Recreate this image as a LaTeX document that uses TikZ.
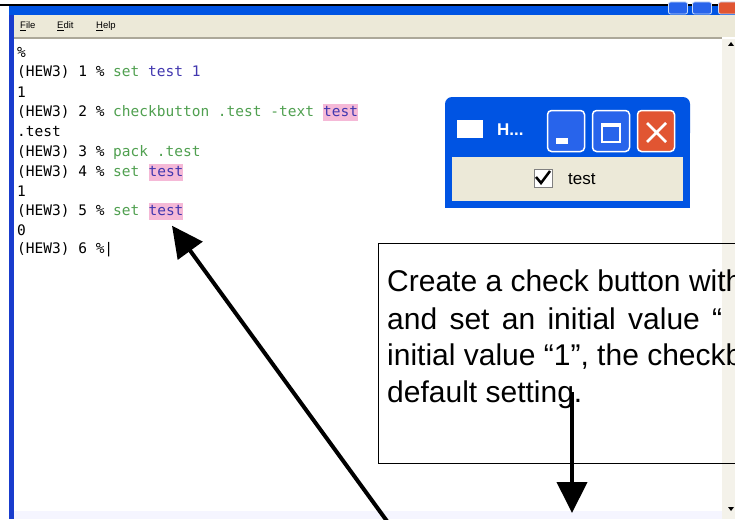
\documentclass[tikz,border=0pt]{standalone}
\usepackage{fontspec}
\setmainfont{Liberation Sans}
\newfontfamily\consolefont{DejaVu Sans Mono}
\usetikzlibrary{positioning,arrows.meta}

\definecolor{xpblue}{RGB}{0,84,227}
\definecolor{xpedge}{RGB}{25,60,205}
\definecolor{menubeige}{RGB}{236,233,216}
\definecolor{sepgray}{RGB}{172,168,153}
\definecolor{cmdgreen}{RGB}{80,160,80}
\definecolor{argblue}{RGB}{65,55,175}
\definecolor{hlpink}{RGB}{245,185,215}
\definecolor{closered}{RGB}{225,85,50}
\definecolor{scrollbg}{RGB}{244,242,234}
\definecolor{btnblue}{RGB}{40,100,235}

\begin{document}
\begin{tikzpicture}[x=1pt,y=-1pt,
	every node/.style={inner sep=0pt},
	menuitem/.style={anchor=west, font=\fontsize{9.5}{11}\selectfont},
	conline/.style={anchor=west, font=\consolefont\fontsize{14.5}{17}\selectfont},
	hlbox/.style={conline, fill=hlpink, text=argblue, minimum height=17pt},
	noteline/.style={anchor=west, font=\fontsize{30}{35}\selectfont},
	notebox/.style={draw, line width=1.2pt, anchor=north west, minimum width=380pt, minimum height=220pt},
	winbtn/.style={draw=white, line width=1.5pt, rounded corners=4pt, fill=btnblue, minimum width=37pt, minimum height=41pt},
	tinybtn/.style={draw=white!80!xpblue, line width=0.8pt, rounded corners=2pt, fill=btnblue, minimum width=19pt, minimum height=12pt},
	callout/.style={line width=4pt, -{Triangle[length=31pt,width=30pt]}}
	]
	\useasboundingbox (0,0) rectangle (735,519);
	\clip (0,0) rectangle (735,519);
	
	% console window frame
	\fill[white] (0,0) rectangle (735,519);
	\draw[line width=2pt] (0,5) -- (735,5);
	\fill[xpblue] (9,6) rectangle (735,15);
	\node[tinybtn] (tmin) at (678,8) {};
	\node[tinybtn] (tmax) at (702,8) {};
	\node[tinybtn, fill=closered] (tclose) at (728,8) {};
	\fill[xpedge] (9,15) rectangle (14,519);
	\fill[menubeige] (14,15) rectangle (735,37);
	\draw[sepgray, line width=1.5pt] (14,38) -- (722,38);
	\fill[scrollbg] (722,39) rectangle (735,519);
	\fill[blue!4] (14,511) rectangle (722,519);
	\fill (728,46) -- (734,46) -- (731,42) -- cycle;
	\fill (728,507) -- (734,507) -- (731,511) -- cycle;
	
	% menu
	\node[menuitem] (mfile) at (20,26) {\underline{F}ile};
	\node[menuitem] (medit) at (57,26) {\underline{E}dit};
	\node[menuitem] (mhelp) at (96,26) {\underline{H}elp};
	
	% console text
	\node[conline] (l0) at (17,52) {\%};
	\node[conline] (l1) at (17,72) {(HEW3) 1 \% \textcolor{cmdgreen}{set} \textcolor{argblue}{test 1}};
	\node[conline] (l2) at (17,92) {1};
	\node[conline] (l3) at (17,112) {(HEW3) 2 \% \textcolor{cmdgreen}{checkbutton .test -text}};
	\node[hlbox, right=8.73pt of l3] (hl3) {test};
	\node[conline] (l4) at (17,132) {.test};
	\node[conline] (l5) at (17,152) {(HEW3) 3 \% \textcolor{cmdgreen}{pack .test}};
	\node[conline] (l6) at (17,172) {(HEW3) 4 \% \textcolor{cmdgreen}{set}};
	\node[hlbox, right=8.73pt of l6] (hl6) {test};
	\node[conline] (l7) at (17,191) {1};
	\node[conline] (l8) at (17,211) {(HEW3) 5 \% \textcolor{cmdgreen}{set}};
	\node[hlbox, right=8.73pt of l8] (hl8) {test};
	\node[conline] (l9) at (17,230) {0};
	\node[conline] (l10) at (17,250) {(HEW3) 6 \%|};
	
	% small test window
	\fill[xpblue, rounded corners=7pt] (445,97) rectangle (690,140);
	\fill[xpblue] (445,120) rectangle (690,208);
	\fill[menubeige] (452,157) rectangle (683,201);
	\node[fill=white, minimum width=26pt, minimum height=18pt] (wicon) at (470,129) {};
	\node[anchor=west, text=white, font=\bfseries\fontsize{17}{20}\selectfont] (wtitle) at (497,130) {H...};
	\node[winbtn] (wmin) at (566,131) {};
	\node[winbtn] (wmax) at (611,131) {};
	\node[winbtn, fill=closered] (wclose) at (656,131) {};
	\fill[white] (556,138) rectangle (568,144);
	\draw[white, line width=1.5pt] (602,124) rectangle (620,142);
	\draw[white, line width=3pt] (602,125) -- (620,125);
	\draw[white, line width=2.5pt] (647,123) -- (666,142) (666,123) -- (647,142);
	\node[fill=white, draw=gray, minimum width=18pt, minimum height=18pt] (wcheck) at (543,178) {};
	\draw[line width=2.5pt] (536,177) -- (541,183) -- (550,171);
	\node[anchor=west, font=\fontsize{17}{20}\selectfont] (wtext) at (568,179) {test};
	
	% note box
	\node[notebox] (note) at (378,243) {};
	\node[noteline] (n1) at (387,281) {Create a check button with};
	\node[noteline] (n2) at (387,319) {{\spaceskip=12.3pt and set an initial value “}};
	\node[noteline] (n3) at (387,357) {initial value “1”, the checkbox};
	\node[noteline] (n4) at (387,395) {default setting.};
	
	% callouts
	\coordinate (foot1) at (392,528);
	\coordinate (stem) at (572,392);
	\coordinate (foot2) at (572,513);
	\draw[callout] (foot1) -- ([xshift=6pt,yshift=-6pt]hl8.south);
	\draw[callout] (stem) -- (foot2);
	
\end{tikzpicture}
\end{document}
